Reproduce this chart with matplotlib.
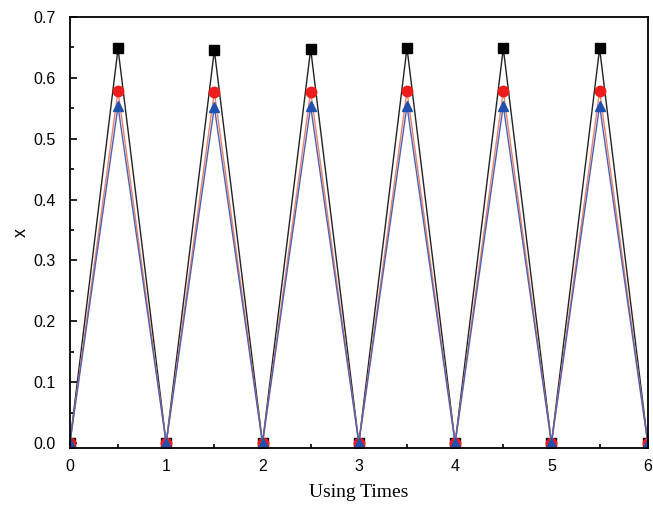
import numpy as np
import matplotlib.pyplot as plt

plt.rcParams['font.family'] = ['Liberation Sans', 'DejaVu Sans']

times = [0, 0.5, 1, 1.5, 2, 2.5, 3, 3.5, 4, 4.5, 5, 5.5, 6]
x_black = [0, 0.648, 0, 0.645, 0, 0.647, 0, 0.649, 0, 0.648, 0, 0.648, 0]
x_red = [0, 0.578, 0, 0.577, 0, 0.577, 0, 0.578, 0, 0.578, 0, 0.578, 0]
x_blue = [0, 0.553, 0, 0.552, 0, 0.553, 0, 0.554, 0, 0.554, 0, 0.554, 0]

fig = plt.figure(figsize=(6.53, 5.08), dpi=100)
ax = fig.add_axes([0.107, 0.118, 0.885, 0.849])

ax.plot(times, x_black, color='#222222', lw=1.0, marker='s', ms=7, mfc='black', mec='black')
ax.plot(times, x_red, color='#e8826a', lw=1.0, marker='o', ms=7.5, mfc='#ee1c1c', mec='#ee1c1c')
ax.plot(times, x_blue, color='#5060b0', lw=1.0, marker='^', ms=7.5, mfc='#2050b0', mec='#2050b0')

ax.set_xlim(0, 6)
ax.set_ylim(-0.008, 0.7)
ax.set_xticks(range(7))
ax.set_xticks(np.arange(0.5, 6, 1), minor=True)
ax.set_yticks(np.arange(0, 0.71, 0.1))
ax.set_yticks(np.arange(0.05, 0.7, 0.1), minor=True)
ax.set_yticklabels(['%.1f' % v for v in np.arange(0, 0.71, 0.1)])
ax.tick_params(which='both', direction='in', labelsize=11.5, width=1.2)
ax.tick_params(which='major', length=5)
ax.tick_params(which='minor', length=3)
ax.tick_params(axis='y', pad=10)
ax.tick_params(axis='x', pad=8)
for s in ax.spines.values():
    s.set_linewidth(1.3)

ax.set_xlabel('Using Times', family='Liberation Serif', fontsize=14, labelpad=7)
ax.set_ylabel('x', fontsize=13, labelpad=3)

fig.savefig('out.png', dpi=100)
